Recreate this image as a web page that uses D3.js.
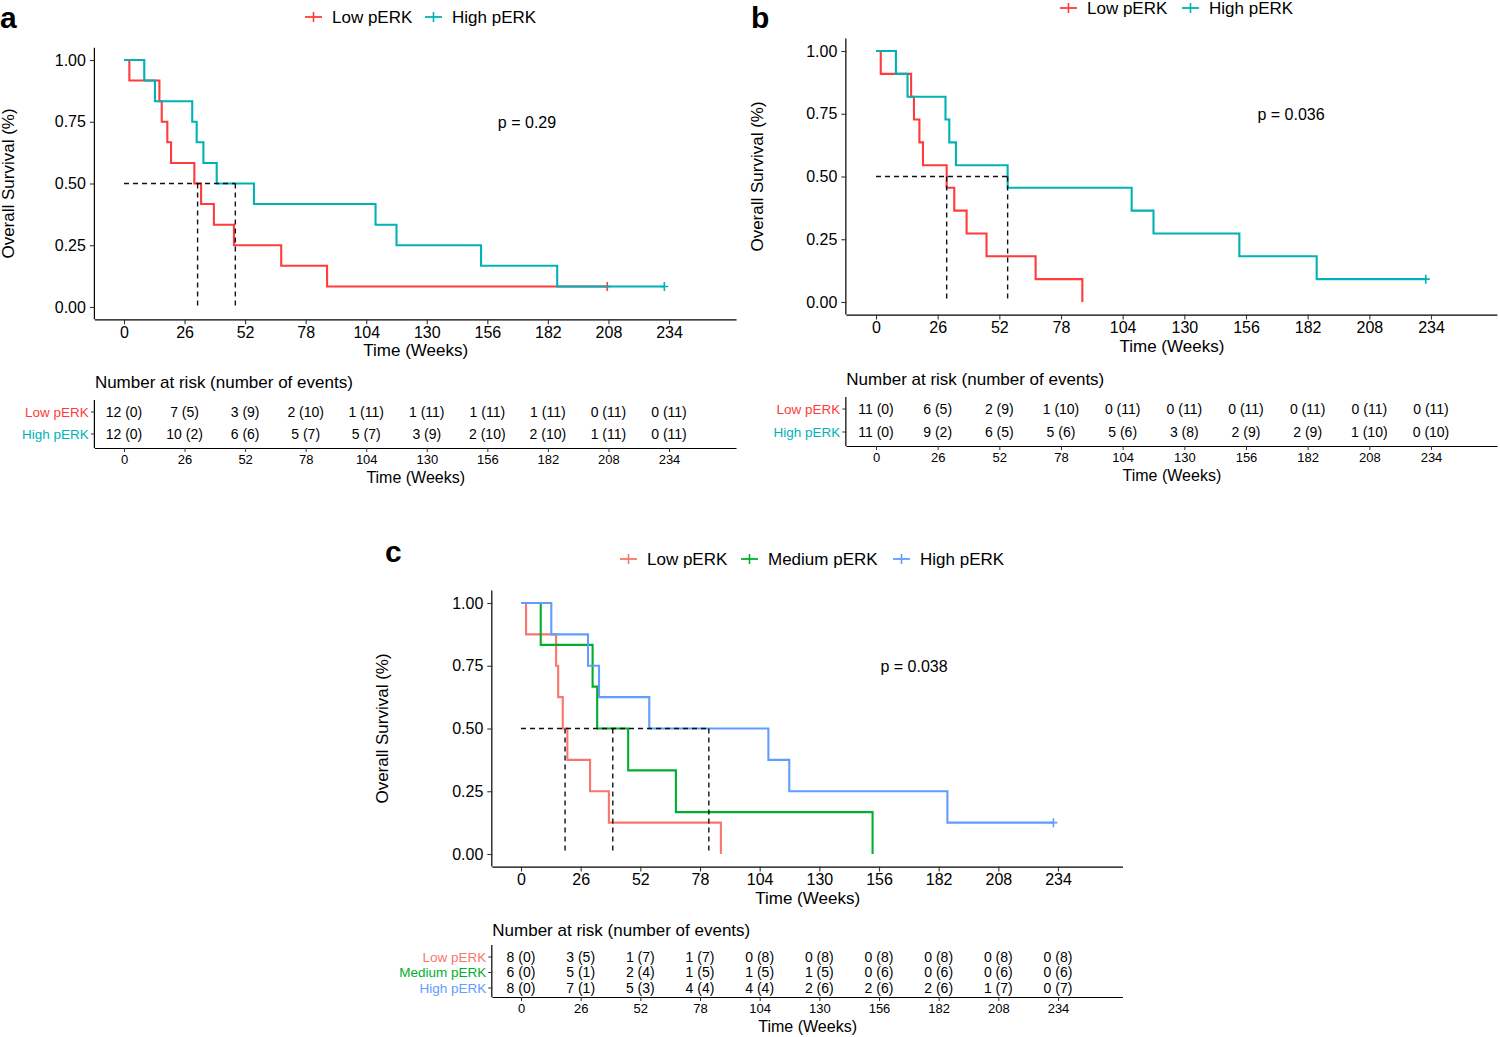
<!DOCTYPE html>
<html><head><meta charset="utf-8">
<script src="https://cdn.jsdelivr.net/npm/d3@7"></script>
<style>body{margin:0;background:#fff}text{font-family:"Liberation Sans",Arial,sans-serif}</style>
</head><body>
<svg id="chart" width="1500" height="1037"></svg>
<script>
// ---------- data ----------
const timeTicks = [0, 26, 52, 78, 104, 130, 156, 182, 208, 234];
const survTicks = [0, 0.25, 0.5, 0.75, 1];

// Panel a
const aGroups = ["Low pERK", "High pERK"];
const aLowTimes = [0, 2.3, 15.2, 16.2, 18.6, 20.2, 30.2, 33.1, 38.6, 47.2, 67.5, 87.2, 207.5];
const aLowSurv  = [1, 0.917, 0.833, 0.75, 0.667, 0.583, 0.5, 0.417, 0.333, 0.25, 0.167, 0.083, 0.083];
const aLowCensor = [207.5];
const aHighTimes = [0, 8.7, 13.3, 29.3, 31.2, 34.1, 39.8, 55.8, 108, 117, 153.3, 186, 232];
const aHighSurv  = [1, 0.917, 0.833, 0.75, 0.667, 0.583, 0.5, 0.417, 0.333, 0.25, 0.167, 0.083, 0.083];
const aHighCensor = [232];
const aMedians = [31.6, 47.8];
const aPValue = "p = 0.29";
const aRiskLow  = ["12 (0)", "7 (5)", "3 (9)", "2 (10)", "1 (11)", "1 (11)", "1 (11)", "1 (11)", "0 (11)", "0 (11)"];
const aRiskHigh = ["12 (0)", "10 (2)", "6 (6)", "5 (7)", "5 (7)", "3 (9)", "2 (10)", "2 (10)", "1 (11)", "0 (11)"];

// Panel b
const bGroups = ["Low pERK", "High pERK"];
const bLowTimes = [0, 2, 14.8, 16, 18.3, 19.8, 29.8, 33, 38.2, 46.6, 67.3, 87];
const bLowSurv  = [1, 0.909, 0.818, 0.727, 0.636, 0.545, 0.455, 0.364, 0.273, 0.182, 0.091, 0];
const bLowCensor = [];
const bHighTimes = [0, 8.4, 13.3, 29.3, 30.9, 33.7, 55.5, 107.8, 117, 153.2, 185.8, 231.8];
const bHighSurv  = [1, 0.909, 0.818, 0.727, 0.636, 0.545, 0.455, 0.364, 0.273, 0.182, 0.091, 0.091];
const bHighCensor = [231.8];
const bMedians = [29.8, 55.5];
const bPValue = "p = 0.036";
const bRiskLow  = ["11 (0)", "6 (5)", "2 (9)", "1 (10)", "0 (11)", "0 (11)", "0 (11)", "0 (11)", "0 (11)", "0 (11)"];
const bRiskHigh = ["11 (0)", "9 (2)", "6 (5)", "5 (6)", "5 (6)", "3 (8)", "2 (9)", "2 (9)", "1 (10)", "0 (10)"];

// Panel c
const cGroups = ["Low pERK", "Medium pERK", "High pERK"];
const cLowTimes = [0, 2.2, 15.3, 16.2, 18.2, 20.2, 30.1, 38.3, 87.1];
const cLowSurv  = [1, 0.875, 0.75, 0.625, 0.5, 0.375, 0.25, 0.125, 0];
const cLowCensor = [];
const cMedTimes = [0, 8.6, 31.2, 33.2, 46.7, 67.5, 153.2];
const cMedSurv  = [1, 0.833, 0.667, 0.5, 0.333, 0.167, 0];
const cMedCensor = [];
const cHighTimes = [0, 13.2, 29.2, 34, 55.9, 107.8, 116.9, 185.8, 232];
const cHighSurv  = [1, 0.875, 0.75, 0.625, 0.5, 0.375, 0.25, 0.125, 0.125];
const cHighCensor = [232];
const cMedians = [19.2, 40, 81.85];
const cPValue = "p = 0.038";
const cRiskLow  = ["8 (0)", "3 (5)", "1 (7)", "1 (7)", "0 (8)", "0 (8)", "0 (8)", "0 (8)", "0 (8)", "0 (8)"];
const cRiskMed  = ["6 (0)", "5 (1)", "2 (4)", "1 (5)", "1 (5)", "1 (5)", "0 (6)", "0 (6)", "0 (6)", "0 (6)"];
const cRiskHigh = ["8 (0)", "7 (1)", "5 (3)", "4 (4)", "4 (4)", "2 (6)", "2 (6)", "2 (6)", "1 (7)", "0 (7)"];

const colors2 = ["#FF3B3B", "#00B2B6"];
const colors3 = ["#F8766D", "#00AE2E", "#619CFF"];

// ---------- drawing ----------
const svg = d3.select("#chart");

function panel(cfg) {
  const g = svg.append("g");
  const x = d3.scaleLinear().domain([0, 234]).range(cfg.xr);
  const y = d3.scaleLinear().domain([0, 1]).range(cfg.yr);
  const xLeft = x(-12.5), xRight = x(cfg.xmax);
  const yTop = y(1.05), yBot = y(-0.05);

  // panel letter
  g.append("text").attr("x", cfg.letterPos[0]).attr("y", cfg.letterPos[1])
    .attr("font-size", 30).attr("font-weight", "bold").text(cfg.letter);

  // legend
  const lg = g.append("g").attr("font-size", 17);
  cfg.legendX.forEach((lx, i) => {
    const c = cfg.colors[i];
    lg.append("line").attr("x1", lx).attr("x2", lx + 17).attr("y1", cfg.legendY).attr("y2", cfg.legendY)
      .attr("stroke", c).attr("stroke-width", 1.8);
    lg.append("line").attr("x1", lx + 8.5).attr("x2", lx + 8.5).attr("y1", cfg.legendY - 5).attr("y2", cfg.legendY + 5)
      .attr("stroke", c).attr("stroke-width", 1.6);
    lg.append("text").attr("x", lx + 27).attr("y", cfg.legendY).attr("dy", "0.35em").text(cfg.groups[i]);
  });

  // axes
  const ax = g.append("g").attr("transform", `translate(0,${yBot})`)
    .call(d3.axisBottom(x).tickValues(timeTicks).tickSize(5).tickPadding(2).tickSizeOuter(0));
  ax.select(".domain").attr("d", `M${xLeft},0.5H${xRight}`).attr("stroke", "#000").attr("stroke-width", 1.2);
  ax.selectAll(".tick line").attr("stroke", "#333").attr("stroke-width", 1.1);
  ax.selectAll("text").attr("font-size", 16).attr("fill", "#000").attr("font-family", "Liberation Sans, Arial");

  const ay = g.append("g").attr("transform", `translate(${xLeft},0)`)
    .call(d3.axisLeft(y).tickValues(survTicks).tickFormat(d3.format(".2f")).tickSize(5).tickPadding(4).tickSizeOuter(0));
  ay.select(".domain").attr("d", `M-0.5,${yTop}V${yBot}`).attr("stroke", "#000").attr("stroke-width", 1.2);
  ay.selectAll(".tick line").attr("stroke", "#333").attr("stroke-width", 1.1);
  ay.selectAll("text").attr("font-size", 16).attr("fill", "#000").attr("font-family", "Liberation Sans, Arial");

  g.append("text").attr("x", (xLeft + xRight) / 2).attr("y", yBot + 37).attr("text-anchor", "middle")
    .attr("font-size", 17).text("Time (Weeks)");
  g.append("text").attr("transform", `translate(${cfg.ytitleX},${(yTop + yBot) / 2}) rotate(-90)`)
    .attr("text-anchor", "middle").attr("dy", "0.35em").attr("font-size", 17).text("Overall Survival (%)");

  // median lines
  const medMax = d3.max(cfg.medians);
  const dash = g.append("g").attr("stroke", "#111").attr("stroke-width", 1.4).attr("stroke-dasharray", "5,4").attr("fill", "none");
  dash.append("line").attr("x1", x(0)).attr("x2", x(medMax)).attr("y1", y(0.5)).attr("y2", y(0.5));
  cfg.medians.forEach(m => dash.append("line").attr("x1", x(m)).attr("x2", x(m)).attr("y1", y(0.5)).attr("y2", y(0)));

  // curves
  const line = d3.line().x(d => x(d[0])).y(d => y(d[1])).curve(d3.curveStepAfter);
  cfg.curves.forEach((cv, i) => {
    const pts = cv.times.map((t, k) => [t, cv.surv[k]]);
    g.append("path").attr("d", line(pts)).attr("fill", "none").attr("stroke", cfg.colors[i]).attr("stroke-width", 2.1);
    cv.censor.forEach(t => {
      const s = cv.surv[cv.times.indexOf(t)];
      g.append("path").attr("d", `M${x(t) - 4},${y(s)}H${x(t) + 4}M${x(t)},${y(s) - 4.5}V${y(s) + 4.5}`)
        .attr("stroke", cfg.colors[i]).attr("stroke-width", 1.6);
    });
  });
  g.node().appendChild(dash.node());

  // p value
  g.append("text").attr("x", cfg.pPos[0]).attr("y", cfg.pPos[1]).attr("dy", "0.35em").attr("text-anchor", "middle")
    .attr("font-size", 16).text(cfg.p);

  // risk table
  const T = cfg.table;
  g.append("text").attr("x", xLeft).attr("y", T.titleY).attr("dy", "0.35em").attr("font-size", 17)
    .text("Number at risk (number of events)");
  const tx = g.append("g").attr("transform", `translate(0,${T.axisY})`)
    .call(d3.axisBottom(x).tickValues(timeTicks).tickSize(4).tickPadding(3).tickSizeOuter(0));
  tx.select(".domain").attr("d", `M${xLeft},0.5H${xRight}`).attr("stroke", "#000").attr("stroke-width", 1.2);
  tx.selectAll(".tick line").attr("stroke", "#333");
  tx.selectAll("text").attr("font-size", 13).attr("fill", "#000").attr("font-family", "Liberation Sans, Arial");
  g.append("line").attr("x1", xLeft - 0.5).attr("x2", xLeft - 0.5).attr("y1", T.rowsY[0] - 12).attr("y2", T.axisY)
    .attr("stroke", "#000").attr("stroke-width", 1.2);
  g.append("text").attr("x", (xLeft + xRight) / 2).attr("y", T.axisY + 35).attr("text-anchor", "middle")
    .attr("font-size", 16).text("Time (Weeks)");
  T.rows.forEach((row, i) => {
    const ry = T.rowsY[i];
    g.append("line").attr("x1", xLeft - 4).attr("x2", xLeft).attr("y1", ry).attr("y2", ry).attr("stroke", "#333");
    g.append("text").attr("x", xLeft - 6).attr("y", ry).attr("dy", "0.35em").attr("text-anchor", "end")
      .attr("font-size", 13.5).attr("fill", cfg.colors[i]).text(cfg.groups[i]);
    row.forEach((v, k) => {
      g.append("text").attr("x", x(timeTicks[k])).attr("y", ry).attr("dy", "0.35em").attr("text-anchor", "middle")
        .attr("font-size", 14).text(v);
    });
  });
}

panel({
  letter: "a", letterPos: [0, 28], groups: aGroups, colors: colors2,
  xr: [124, 669], yr: [307, 60], xmax: 263, ytitleX: 8,
  legendX: [305, 425], legendY: 17,
  curves: [
    {times: aLowTimes, surv: aLowSurv, censor: aLowCensor},
    {times: aHighTimes, surv: aHighSurv, censor: aHighCensor}],
  medians: aMedians, p: aPValue, pPos: [527, 122],
  table: {titleY: 382, rowsY: [412, 434], axisY: 448, rows: [aRiskLow, aRiskHigh]}
});
panel({
  letter: "b", letterPos: [751, 28], groups: bGroups, colors: colors2,
  xr: [876, 1431], yr: [302, 51], xmax: 262, ytitleX: 757,
  legendX: [1060, 1182], legendY: 8,
  curves: [
    {times: bLowTimes, surv: bLowSurv, censor: bLowCensor},
    {times: bHighTimes, surv: bHighSurv, censor: bHighCensor}],
  medians: bMedians, p: bPValue, pPos: [1291, 114],
  table: {titleY: 379, rowsY: [409, 432], axisY: 446, rows: [bRiskLow, bRiskHigh]}
});
panel({
  letter: "c", letterPos: [385, 562], groups: cGroups, colors: colors3,
  xr: [521, 1058], yr: [854, 603], xmax: 262.3, ytitleX: 382,
  legendX: [620, 741, 893], legendY: 559,
  curves: [
    {times: cLowTimes, surv: cLowSurv, censor: cLowCensor},
    {times: cMedTimes, surv: cMedSurv, censor: cMedCensor},
    {times: cHighTimes, surv: cHighSurv, censor: cHighCensor}],
  medians: cMedians, p: cPValue, pPos: [914, 666],
  table: {titleY: 930, rowsY: [957, 972.5, 988], axisY: 997, rows: [cRiskLow, cRiskMed, cRiskHigh]}
});
</script>
</body></html>
